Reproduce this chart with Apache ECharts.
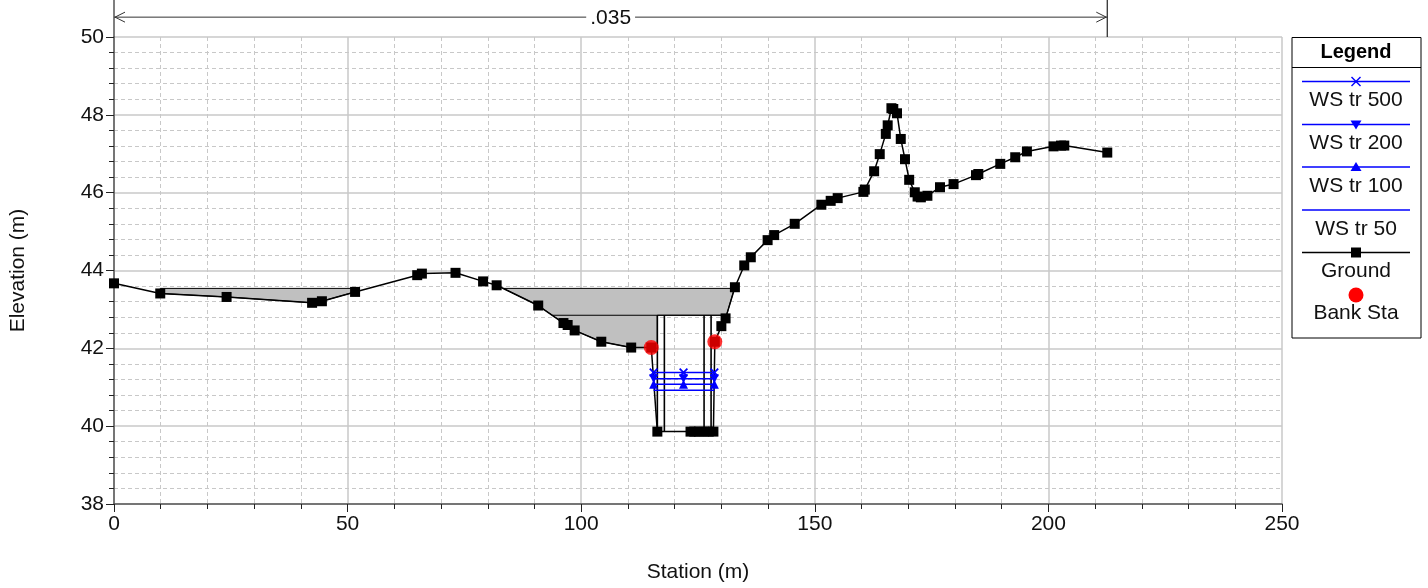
<!DOCTYPE html>
<html><head><meta charset="utf-8">
<script src="https://cdn.jsdelivr.net/npm/echarts@6/dist/echarts.min.js"></script>
<style>html,body{margin:0;padding:0;background:#fff}#c{width:1428px;height:588px}</style>
</head><body><div id="c"></div>
<script>
// ---------- data ----------
const xRange = [0, 250];
const yRange = [38, 50];
const groundSta = [0, 9.9, 24.1, 42.4, 44.5, 51.6, 64.9, 65.9, 73.1, 79.0, 81.9, 90.8, 96.2, 97.1, 98.6, 104.3, 110.7, 115.0,
  116.3, 123.4, 124.2, 125.2, 126.3, 127.3, 128.3, 128.6, 130.0, 130.9, 132.9, 134.9, 136.3, 139.9, 141.3, 145.7,
  151.4, 153.4, 154.9, 160.4, 160.7, 162.7, 163.9, 165.2, 165.6, 166.4, 166.8, 167.6, 168.4, 169.3, 170.2, 171.4,
  172.0, 172.7, 174.1, 176.8, 179.7, 184.5, 185.0, 189.7, 192.9, 195.4, 201.1, 202.7, 203.4, 212.6];
const groundElev = [43.67, 43.41, 43.32, 43.17, 43.21, 43.45, 43.88, 43.92, 43.94, 43.72, 43.62, 43.10, 42.65, 42.60, 42.46, 42.17, 42.02, 42.02,
  39.86, 39.86, 39.86, 39.86, 39.86, 39.86, 39.86, 42.17, 42.57, 42.77, 43.57, 44.13, 44.34, 44.78, 44.91, 45.20,
  45.69, 45.79, 45.86, 46.02, 46.08, 46.55, 46.99, 47.51, 47.73, 48.17, 48.15, 48.04, 47.38, 46.86, 46.33, 46.01,
  45.90, 45.88, 45.92, 46.14, 46.22, 46.45, 46.48, 46.74, 46.91, 47.06, 47.19, 47.21, 47.21, 47.03];
const bankSta = [115.0, 128.6];
const bankElev = [42.02, 42.17];
const wsSta = [115.5, 121.9, 128.5];
const ws500 = [41.38, 41.38, 41.38];
const ws200 = [41.22, 41.22, 41.22];
const ws100 = [41.08, 41.08, 41.08];
const ws50 = [40.92, 40.92, 40.92];
const deckLeft = [[9.9, 43.54], [51.6, 43.54], [51.6, 43.45], [44.5, 43.21], [42.4, 43.17], [24.1, 43.32], [9.9, 43.41]];
const deckMain = [[83.3, 43.54], [132.8, 43.54], [131.1, 42.85], [116.3, 42.85], [116.3, 42.0], [115.0, 42.02], [110.7, 42.02],
  [104.3, 42.17], [98.6, 42.46], [97.1, 42.60], [96.2, 42.65], [90.8, 43.10]];
const lowChord = [[93.8, 42.85], [131.1, 42.85]];
const pierSta = [116.3, 117.8, 126.3, 127.8];
const pierTop = 42.85, pierBottom = 39.86;
const nLabel = '.035';
const nRange = [0, 212.6];
const nElev = 50.51;
const nTop = 50.95;
const legendNames = ['WS tr 500', 'WS tr 200', 'WS tr 100', 'WS tr 50', 'Ground', 'Bank Sta'];

// ---------- chart ----------
const FONT = "'Liberation Sans', Arial, sans-serif";
const FS = 21;
const zip = (a, b) => a.map((v, i) => [v, b[i]]);
const chart = echarts.init(document.getElementById('c'), null, {renderer: 'canvas'});
const deckPolys = [deckLeft, deckMain];
const BLUE = '#0000ff';
const xSym = 'path://M0,1.4L1.4,0L5,3.6L8.6,0L10,1.4L6.4,5L10,8.6L8.6,10L5,6.4L1.4,10L0,8.6L3.6,5Z';

function axisCommon() {
  return {
    nameLocation: 'middle',
    nameTextStyle: {fontSize: FS, color: '#111', fontFamily: FONT},
    axisLine: {show: true, onZero: false, lineStyle: {color: '#555', width: 1.5}},
    axisTick: {show: true, length: 8, lineStyle: {color: '#222', width: 1}},
    minorTick: {show: true, splitNumber: 5, length: 5, lineStyle: {color: '#222', width: 1}},
    axisLabel: {fontSize: FS, color: '#111', fontFamily: FONT, margin: 10},
    splitLine: {show: true, lineStyle: {color: '#c8c8c8', width: 1.5}},
    minorSplitLine: {show: true, lineStyle: {color: '#c8c8c8', width: 1, type: [4, 3]}}
  };
}

// legend graphic
const LX0 = 1292, LX1 = 1421, LCX = 1356;
const lg = [];
lg.push({type: 'rect', shape: {x: LX0, y: 37.5, width: LX1 - LX0, height: 300.5}, style: {fill: '#fff', stroke: '#000', lineWidth: 1}, z: 100});
lg.push({type: 'text', style: {text: 'Legend', x: LCX, y: 52, textAlign: 'center', textVerticalAlign: 'middle', font: 'bold 20px ' + FONT, fill: '#000'}, z: 101});
lg.push({type: 'line', shape: {x1: LX0, y1: 67.5, x2: LX1, y2: 67.5}, style: {stroke: '#000', lineWidth: 1}, z: 101});
const lineYs = [81.5, 124.5, 167, 210, 252.5];
const textYs = [100, 143, 186, 229, 271, 313];
lineYs.forEach((y, i) => {
  lg.push({type: 'line', shape: {x1: 1302, y1: y, x2: 1410, y2: y}, style: {stroke: i === 4 ? '#000' : BLUE, lineWidth: 1.5}, z: 101});
});
lg.push({type: 'line', shape: {x1: LCX - 4.5, y1: 77, x2: LCX + 4.5, y2: 86}, style: {stroke: BLUE, lineWidth: 1.4}, z: 102});
lg.push({type: 'line', shape: {x1: LCX + 4.5, y1: 77, x2: LCX - 4.5, y2: 86}, style: {stroke: BLUE, lineWidth: 1.4}, z: 102});
lg.push({type: 'polygon', shape: {points: [[LCX - 5.5, 120.5], [LCX + 5.5, 120.5], [LCX, 129.5]]}, style: {fill: BLUE}, z: 102});
lg.push({type: 'polygon', shape: {points: [[LCX - 5.5, 171], [LCX + 5.5, 171], [LCX, 162]]}, style: {fill: BLUE}, z: 102});
lg.push({type: 'rect', shape: {x: LCX - 5, y: 247.5, width: 10, height: 10}, style: {fill: '#000'}, z: 102});
lg.push({type: 'circle', shape: {cx: LCX, cy: 295, r: 7.5}, style: {fill: '#ff0000'}, z: 102});
legendNames.forEach((t, i) => {
  lg.push({type: 'text', style: {text: t, x: LCX, y: textYs[i], textAlign: 'center', textVerticalAlign: 'middle', font: FS + 'px ' + FONT, fill: '#111'}, z: 101});
});

const option = {
  animation: false,
  backgroundColor: '#fff',
  grid: {left: 113.5, right: 146, top: 37, bottom: 83, containLabel: false},
  xAxis: Object.assign(axisCommon(), {
    type: 'value', min: xRange[0], max: xRange[1], interval: 50, name: 'Station (m)', nameGap: 58
  }),
  yAxis: Object.assign(axisCommon(), {
    type: 'value', min: yRange[0], max: yRange[1], interval: 2, name: 'Elevation (m)', nameGap: 85
  }),
  graphic: lg,
  series: [
    {
      type: 'custom', name: 'deck', coordinateSystem: 'cartesian2d', silent: true, z: 2,
      data: deckPolys.map(p => p[0]),
      renderItem: (params, api) => ({
        type: 'polygon',
        shape: {points: deckPolys[params.dataIndex].map(p => api.coord(p))},
        style: {fill: '#c0c0c0', stroke: '#000', lineWidth: 1}
      })
    },
    {
      type: 'custom', name: 'bridge', coordinateSystem: 'cartesian2d', silent: true, z: 3,
      data: [lowChord[0]],
      renderItem: (params, api) => {
        const ch = [];
        const a = api.coord(lowChord[0]), b = api.coord(lowChord[1]);
        ch.push({type: 'line', shape: {x1: a[0], y1: a[1], x2: b[0], y2: b[1]}, style: {stroke: '#000', lineWidth: 1}});
        pierSta.forEach(s => {
          const t = api.coord([s, pierTop]), u = api.coord([s, pierBottom]);
          ch.push({type: 'line', shape: {x1: t[0], y1: t[1], x2: u[0], y2: u[1]}, style: {stroke: '#000', lineWidth: 1.6}});
        });
        return {type: 'group', children: ch};
      }
    },
    {
      type: 'custom', name: 'nval', coordinateSystem: 'cartesian2d', silent: true, clip: false, z: 5,
      data: [[nRange[0], nElev]],
      renderItem: (params, api) => {
        const a = api.coord([nRange[0], nElev]), b = api.coord([nRange[1], nElev]);
        const at = api.coord([nRange[0], nTop]), ab = api.coord([nRange[0], yRange[1]]);
        const bt = api.coord([nRange[1], nTop]), bb = api.coord([nRange[1], yRange[1]]);
        const m = api.coord([(nRange[0] + nRange[1]) / 2, nElev]);
        return {type: 'group', children: [
          {type: 'line', shape: {x1: at[0], y1: at[1], x2: ab[0], y2: ab[1]}, style: {stroke: '#555', lineWidth: 1.5}},
          {type: 'line', shape: {x1: bt[0], y1: bt[1], x2: bb[0], y2: bb[1]}, style: {stroke: '#222', lineWidth: 1.2}},
          {type: 'line', shape: {x1: a[0], y1: a[1], x2: b[0], y2: b[1]}, style: {stroke: '#333', lineWidth: 1}},
          {type: 'polyline', shape: {points: [[a[0] + 11, a[1] - 5], [a[0] + 1, a[1]], [a[0] + 11, a[1] + 5]]}, style: {stroke: '#333', lineWidth: 1, fill: null}},
          {type: 'polyline', shape: {points: [[b[0] - 11, b[1] - 5], [b[0] - 1, b[1]], [b[0] - 11, b[1] + 5]]}, style: {stroke: '#333', lineWidth: 1, fill: null}},
          {type: 'text', style: {text: nLabel, x: m[0], y: m[1] + 1, textAlign: 'center', textVerticalAlign: 'middle', font: FS + 'px ' + FONT, fill: '#111', backgroundColor: '#fff', padding: [1, 4]}}
        ]};
      }
    },
    {
      type: 'line', name: 'Ground', data: zip(groundSta, groundElev), z: 6,
      symbol: 'rect', symbolSize: 10, showAllSymbol: true,
      itemStyle: {color: '#000'}, lineStyle: {color: '#000', width: 1.5}
    },
    {
      type: 'line', name: 'WS tr 50', data: zip(wsSta, ws50), z: 7, symbol: 'none',
      lineStyle: {color: BLUE, width: 1.5}
    },
    {
      type: 'line', name: 'WS tr 100', data: zip(wsSta, ws100), z: 7, symbol: 'triangle', symbolSize: 9,
      itemStyle: {color: BLUE}, lineStyle: {color: BLUE, width: 1.5}
    },
    {
      type: 'line', name: 'WS tr 200', data: zip(wsSta, ws200), z: 7, symbol: 'triangle', symbolRotate: 180, symbolSize: 9,
      itemStyle: {color: BLUE}, lineStyle: {color: BLUE, width: 1.5}
    },
    {
      type: 'line', name: 'WS tr 500', data: zip(wsSta, ws500), z: 7, symbol: xSym, symbolSize: 9,
      itemStyle: {color: BLUE}, lineStyle: {color: BLUE, width: 1.5}
    },
    {
      type: 'scatter', name: 'Bank Sta', data: zip(bankSta, bankElev), z: 9,
      symbol: 'circle', symbolSize: 15, itemStyle: {color: '#ff0000'}
    }
  ]
};
chart.setOption(option);
</script>
</body></html>
